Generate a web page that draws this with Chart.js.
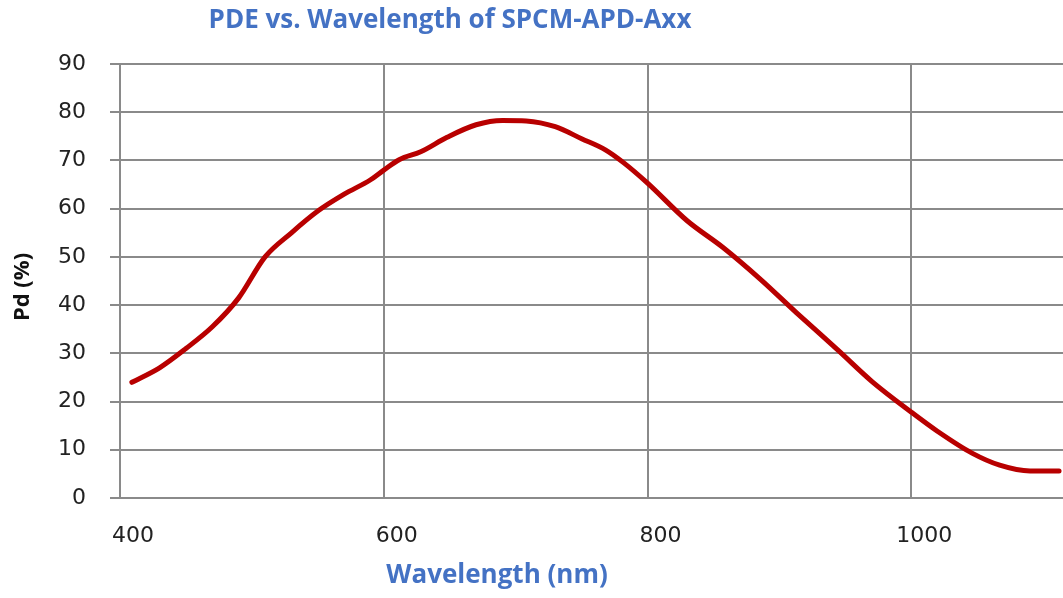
<!DOCTYPE html>
<html>
<head>
<meta charset="utf-8">
<script src="https://cdn.jsdelivr.net/npm/chart.js@4/dist/chart.umd.min.js"></script>
<style>
    html, body { margin: 0; padding: 0; background: #fff; }
    #wrap { width: 1063px; height: 598px; position: relative; }
</style>
</head>
<body>
<div id="wrap"><canvas id="myChart"></canvas></div>
<script>
// values
let wavelengths = [409, 430, 450, 470, 490, 510, 530, 550, 570, 590, 600, 612, 628, 648, 670, 690, 708, 730, 750, 768, 782, 800, 830, 857, 885, 913, 945, 970, 1000, 1020, 1046, 1067, 1090, 1112]
let pdeValues = [24, 27, 31, 35.5, 41.5, 50, 55, 59.5, 63, 66, 68, 70.2, 71.8, 74.8, 77.4, 78.3, 78.2, 77, 74.5, 72.2, 69.5, 65.3, 57.5, 52, 45.5, 38.4, 30.5, 24.2, 17.8, 13.8, 9.3, 6.8, 5.6, 5.6]
let xTicks = [400, 600, 800, 1000]
let yTicks = [0, 10, 20, 30, 40, 50, 60, 70, 80, 90]

let chartTitle = 'PDE vs. Wavelength of SPCM-APD-Axx'
let xTitle = 'Wavelength (nm)'
let yTitle = 'Pd (%)'

const gridColor = '#8a8a8a'
const blue = '#4472c4'

// titles sit off centre in the original, so draw them by hand
const titlePlugin = {
    id: 'offsetTitles',
    afterDraw(chart) {
        let ctx = chart.ctx
        ctx.save()
        ctx.textAlign = 'center'
        ctx.textBaseline = 'middle'

        ctx.font = 'bold 26px "Open Sans"'
        ctx.fillStyle = blue
        ctx.fillText(chartTitle, 450, 21)

        ctx.font = 'bold 26px "Open Sans"'
        ctx.fillText(xTitle, 497, 576)

        ctx.translate(23, 287)
        ctx.rotate(-Math.PI / 2)
        ctx.font = 'bold 22px "Open Sans"'
        ctx.fillStyle = '#111'
        ctx.fillText(yTitle, 0, 0)
        ctx.restore()
    }
}

let points = wavelengths.map((w, i) => ({x: w, y: pdeValues[i]}))

new Chart(document.getElementById('myChart'), {
    type: 'line',
    data: {
        datasets: [{
            data: points,
            borderColor: '#b80000',
            borderWidth: 5,
            pointRadius: 0,
            cubicInterpolationMode: 'monotone',
            borderCapStyle: 'round'
        }]
    },
    options: {
        responsive: true,
        maintainAspectRatio: false,
        animation: false,
        layout: { padding: { top: 64, right: 0, bottom: 0, left: 0 } },
        plugins: {
            legend: { display: false },
            tooltip: { enabled: false }
        },
        scales: {
            x: {
                type: 'linear',
                min: 400,
                max: 1115,
                afterFit: (scale) => { scale.height = 100 },
                afterBuildTicks: (scale) => { scale.ticks = xTicks.map(v => ({value: v})) },
                grid: { color: gridColor, lineWidth: 2, drawTicks: false },
                border: { color: gridColor, width: 2 },
                ticks: {
                    padding: 25,
                    labelOffset: 13,
                    color: '#222',
                    font: { family: 'DejaVu Sans', size: 22 },
                    callback: (v) => String(v)
                }
            },
            y: {
                min: 0,
                max: 90,
                afterFit: (scale) => { scale.width = 120 },
                afterBuildTicks: (scale) => { scale.ticks = yTicks.map(v => ({value: v})) },
                grid: { color: gridColor, lineWidth: 2, tickLength: 10 },
                border: { color: gridColor, width: 2 },
                ticks: {
                    padding: 24,
                    color: '#222',
                    font: { family: 'DejaVu Sans', size: 22 },
                    callback: (v) => String(v)
                }
            }
        }
    },
    plugins: [titlePlugin]
})
</script>
</body>
</html>
